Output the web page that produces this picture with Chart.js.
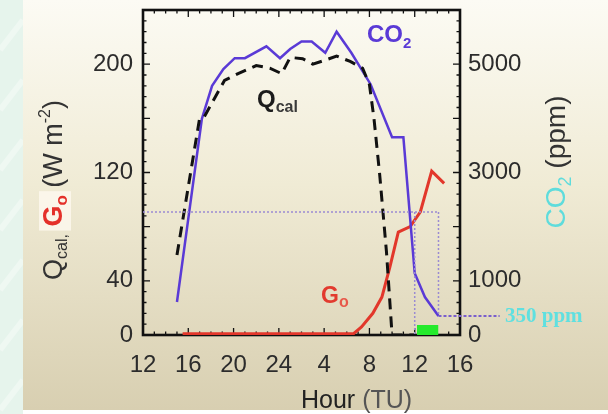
<!DOCTYPE html>
<html>
<head>
<meta charset="utf-8">
<script src="https://cdn.jsdelivr.net/npm/chart.js@4.4.1/dist/chart.umd.min.js"></script>
<style>
html, body { margin: 0; padding: 0; background: #fff; }
canvas { display: block; }
</style>
</head>
<body>
<canvas id="chart" width="608" height="414"></canvas>
<script>
// Horas contínuas (TU) a partir do meio-dia do primeiro dia
const xTickLabels = ['12', '16', '20', '24', '4', '8', '12', '16'];
const leftTickLabels = [0, 40, 120, 200];
const rightTickLabels = [0, 1000, 3000, 5000];

// CO2 (ppm)
const co2Hours = [15.0, 17.2, 18.1, 19.1, 20.1, 21.0, 22.9, 24.1, 25.0, 26.0, 26.9, 28.1, 29.1, 30.4, 32.1, 34.0, 35.0, 36.0, 36.9, 38.1];
const co2Ppm = [610, 3990, 4600, 4910, 5110, 5110, 5330, 5110, 5280, 5420, 5420, 5210, 5600, 5210, 4630, 3650, 3650, 1140, 700, 350];

// Qcal (W m-2)
const qcalHours = [15.0, 17.0, 17.4, 18.2, 19.2, 20.4, 22.0, 23.2, 24.25, 25.0, 26.1, 27.0, 28.1, 29.1, 30.3, 31.4, 32.0, 32.4, 32.9, 33.5, 34.0, 35.0, 36.0];
const qcalW = [59, 160, 161, 173, 188, 193, 199, 197, 193, 205, 204, 200, 203, 206, 202, 197, 185, 160, 119, 62, 0, 0, 0];

// Go (W m-2)
const g0Hours = [15.5, 30.6, 31.3, 32.3, 33.1, 33.8, 34.55, 35.6, 36.5, 37.5, 38.6];
const g0W = [1, 1, 6, 16, 28, 50, 76, 80, 91, 121, 112];

// Linhas de referência pontilhadas
const guideHours = [12, 38.1];
const guidePpm = [2270, 2270];
const guide1Hours = [36.0, 36.0];
const guide1Ppm = [2270, 0];
const guide2Hours = [38.1, 38.1];
const guide2Ppm = [2270, 350];
const ambientHours = [38.1, 43.5];
const ambientPpm = [350, 350];

// Barra verde
const greenHours = [36.2, 38.1];
const greenW = [7.4, 7.4];

function pts(xs, ys) {
    return xs.map((x, i) => ({ x: x, y: ys[i] }));
}

const SANS = "'Liberation Sans', Arial, sans-serif";
const SERIF = "'Liberation Serif', 'Times New Roman', serif";

function richWidth(ctx, parts) {
    let w = 0;
    parts.forEach(p => { ctx.font = p.font; w += ctx.measureText(p.t).width; });
    return w;
}
function richText(ctx, parts, x, y) {
    let cx = x;
    parts.forEach(p => {
        ctx.font = p.font;
        ctx.fillStyle = p.color;
        ctx.fillText(p.t, cx, y + (p.dy || 0));
        cx += ctx.measureText(p.t).width;
    });
}

// Fundo do slide
const backgroundPlugin = {
    id: 'fundo',
    beforeDraw(chart) {
        const c = chart.ctx;
        c.save();
        c.fillStyle = '#ffffff';
        c.fillRect(0, 0, 608, 414);
        c.fillStyle = '#e6f4ec';
        c.fillRect(0, 0, 23, 414);
        c.strokeStyle = 'rgba(255,255,255,0.35)';
        c.lineWidth = 6;
        for (let y = -40; y < 420; y += 60) {
            c.beginPath(); c.moveTo(0, y + 30); c.lineTo(23, y); c.stroke();
        }
        const g = c.createLinearGradient(0, 0, 0, 410);
        g.addColorStop(0, '#fcfbf4');
        g.addColorStop(0.45, '#f0ebd5');
        g.addColorStop(1, '#d8cfb1');
        c.fillStyle = g;
        c.fillRect(23, 0, 585, 410);
        c.restore();
    }
};

// Moldura e marcas internas
const framePlugin = {
    id: 'moldura',
    beforeDatasetsDraw(chart) {
        const c = chart.ctx;
        const a = chart.chartArea;
        const sx = chart.scales.x, sy = chart.scales.y;
        c.save();
        c.strokeStyle = '#111';
        c.lineWidth = 1.3;
        for (let h = 12; h <= 40; h += 1) {
            const px = sx.getPixelForValue(h);
            const len = (h % 4 === 0) ? 7 : 3.5;
            c.beginPath();
            c.moveTo(px, a.bottom); c.lineTo(px, a.bottom - len);
            c.moveTo(px, a.top); c.lineTo(px, a.top + len);
            c.stroke();
        }
        for (let v = 0; v <= 240; v += 8) {
            const py = sy.getPixelForValue(v);
            const len = (v % 40 === 0) ? 7 : 3.5;
            c.beginPath();
            c.moveTo(a.left, py); c.lineTo(a.left + len, py);
            c.moveTo(a.right, py); c.lineTo(a.right - len, py);
            c.stroke();
        }
        c.lineWidth = 2.6;
        c.strokeRect(a.left, a.top, a.right - a.left, a.bottom - a.top);
        c.restore();
    },
    afterDraw(chart) {
        const c = chart.ctx;
        c.save();
        c.textBaseline = 'alphabetic';
        c.textAlign = 'left';

        // rótulos das curvas
        richText(c, [
            { t: 'CO', font: 'bold 24px ' + SANS, color: '#5a3ad6' },
            { t: '2', font: 'bold 15px ' + SANS, color: '#5a3ad6', dy: 6 }
        ], 367, 42);
        richText(c, [
            { t: 'Q', font: 'bold 24px ' + SANS, color: '#1c1c1c' },
            { t: 'cal', font: 'bold 16px ' + SANS, color: '#3a3a3a', dy: 5 }
        ], 257, 107);
        richText(c, [
            { t: 'G', font: 'bold 23px ' + SANS, color: '#e23a2e' },
            { t: 'o', font: 'bold 16px ' + SANS, color: '#e8584a', dy: 4 }
        ], 321, 303);
        c.font = 'bold 21px ' + SERIF;
        c.fillStyle = '#5fe0e0';
        c.fillText('350 ppm', 505, 322);

        // título do eixo x
        richText(c, [
            { t: 'Hour ', font: '25px ' + SANS, color: '#222' },
            { t: '(TU)', font: '25px ' + SANS, color: '#555' }
        ], 301, 408);

        // título do eixo esquerdo
        const leftParts = [
            { t: 'Q', font: '27px ' + SANS, color: '#333' },
            { t: 'cal,', font: '16px ' + SANS, color: '#333', dy: 5 },
            { t: ' ', font: '27px ' + SANS, color: '#333' },
            { t: 'G', font: 'bold 27px ' + SANS, color: '#e4302a' },
            { t: 'o', font: 'bold 17px ' + SANS, color: '#e4302a', dy: 5 },
            { t: ' (W m', font: '27px ' + SANS, color: '#333' },
            { t: '-2', font: '16px ' + SANS, color: '#333', dy: -12 },
            { t: ')', font: '27px ' + SANS, color: '#333' }
        ];
        c.save();
        c.translate(62, 190);
        c.rotate(-Math.PI / 2);
        const lw = richWidth(c, leftParts);
        const pre = richWidth(c, leftParts.slice(0, 3));
        const go = richWidth(c, leftParts.slice(3, 5));
        c.fillStyle = 'rgba(255,250,242,0.75)';
        c.fillRect(-lw / 2 + pre - 4, -23, go + 8, 32);
        richText(c, leftParts, -lw / 2, 0);
        c.restore();

        // título do eixo direito
        const rightParts = [
            { t: 'CO', font: '28px ' + SANS, color: '#5fdcdc' },
            { t: '2', font: '18px ' + SANS, color: '#5fdcdc', dy: 6 },
            { t: ' (ppm)', font: '28px ' + SANS, color: '#333' }
        ];
        c.save();
        c.translate(565, 162);
        c.rotate(-Math.PI / 2);
        const rw = richWidth(c, rightParts);
        richText(c, rightParts, -rw / 2, 0);
        c.restore();

        c.restore();
    }
};

const tickFont = { family: SANS, size: 24 };
const guideColor = '#9a8bd2';

function fixWidth(w) {
    return s => { s.width = w; s.paddingTop = 0; s.paddingBottom = 0; };
}

new Chart(document.getElementById('chart').getContext('2d'), {
    type: 'line',
    data: {
        datasets: [
            { data: pts(greenHours, greenW), yAxisID: 'y', fill: 'origin', backgroundColor: '#25ea2c', borderWidth: 0, pointRadius: 0 },
            { data: pts(guideHours, guidePpm), yAxisID: 'y2', borderColor: guideColor, borderWidth: 1.5, borderDash: [2, 2], pointRadius: 0 },
            { data: pts(guide1Hours, guide1Ppm), yAxisID: 'y2', borderColor: guideColor, borderWidth: 1.5, borderDash: [2, 2], pointRadius: 0 },
            { data: pts(guide2Hours, guide2Ppm), yAxisID: 'y2', borderColor: guideColor, borderWidth: 1.5, borderDash: [2, 2], pointRadius: 0 },
            { data: pts(ambientHours, ambientPpm), yAxisID: 'y2', borderColor: '#7a5fcc', borderWidth: 2, borderDash: [3, 2], pointRadius: 0, clip: false },
            { data: pts(qcalHours, qcalW), yAxisID: 'y', borderColor: '#111', borderWidth: 3, borderDash: [11, 7], pointRadius: 0, tension: 0 },
            { data: pts(co2Hours, co2Ppm), yAxisID: 'y2', borderColor: '#5a3ad6', borderWidth: 2.5, pointRadius: 0, tension: 0 },
            { data: pts(g0Hours, g0W), yAxisID: 'y', borderColor: '#e2372b', borderWidth: 3, pointRadius: 0, tension: 0 }
        ]
    },
    options: {
        responsive: false,
        animation: false,
        layout: { padding: { top: 10, left: 0, right: 0, bottom: 0 } },
        plugins: { legend: { display: false }, tooltip: { enabled: false } },
        scales: {
            x: {
                type: 'linear', min: 12, max: 40,
                grid: { display: false, drawTicks: false },
                border: { display: false },
                ticks: {
                    stepSize: 4, font: tickFont, color: '#2c2c2c', padding: 16, maxRotation: 0,
                    callback: (v, i) => xTickLabels[i]
                },
                afterFit: s => { s.height = 79; s.paddingLeft = 0; s.paddingRight = 0; }
            },
            y: {
                position: 'left', min: 0, max: 240,
                grid: { display: false, drawTicks: false },
                border: { display: false },
                ticks: {
                    stepSize: 40, font: tickFont, color: '#2c2c2c', padding: 10,
                    callback: v => leftTickLabels.includes(v) ? v : ''
                },
                afterFit: fixWidth(143)
            },
            y2: {
                position: 'right', min: 0, max: 6000,
                grid: { display: false, drawTicks: false },
                border: { display: false },
                ticks: {
                    stepSize: 1000, font: tickFont, color: '#2c2c2c', padding: 8,
                    callback: v => rightTickLabels.includes(v) ? v : ''
                },
                afterFit: fixWidth(148)
            }
        }
    },
    plugins: [backgroundPlugin, framePlugin]
});
</script>
</body>
</html>
